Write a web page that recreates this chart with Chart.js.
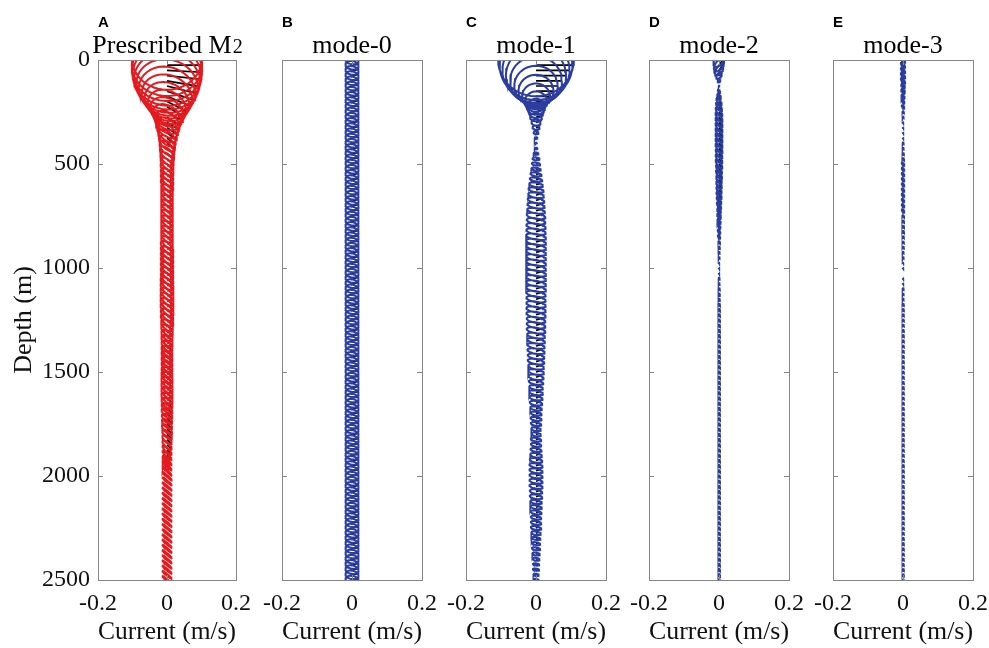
<!DOCTYPE html>
<html>
<head>
<meta charset="utf-8">
<title>M2 tidal current ellipses by vertical mode</title>
<script src="https://cdn.jsdelivr.net/npm/chart.js@4.4.1/dist/chart.umd.min.js"></script>
<style>
  body { margin: 0; background: #fff; }
  #wrap { position: relative; width: 989px; height: 648px; overflow: hidden; background: #fff; }
  #wrap canvas { position: absolute; top: 0; }
</style>
</head>
<body>
<div id="wrap">
  <canvas id="panelA" width="260" height="648" style="left:0px"></canvas>
  <canvas id="panelB" width="200" height="648" style="left:252px"></canvas>
  <canvas id="panelC" width="200" height="648" style="left:436px"></canvas>
  <canvas id="panelD" width="200" height="648" style="left:619px"></canvas>
  <canvas id="panelE" width="200" height="648" style="left:803px"></canvas>
</div>
<script>
// depth of each ellipse centre (m)
const depths = [
  0, 25, 50, 75, 100, 125, 150, 175, 200, 225,
  250, 275, 300, 325, 350, 375, 400, 425, 450, 475,
  500, 525, 550, 575, 600, 625, 650, 675, 700, 725,
  750, 775, 800, 825, 850, 875, 900, 925, 950, 975,
  1000, 1025, 1050, 1075, 1100, 1125, 1150, 1175, 1200, 1225,
  1250, 1275, 1300, 1325, 1350, 1375, 1400, 1425, 1450, 1475,
  1500, 1525, 1550, 1575, 1600, 1625, 1650, 1675, 1700, 1725,
  1750, 1775, 1800, 1825, 1850, 1875, 1900, 1925, 1950, 1975,
  2000, 2025, 2050, 2075, 2100, 2125, 2150, 2175, 2200, 2225,
  2250, 2275, 2300, 2325, 2350, 2375, 2400, 2425, 2450, 2475,
  2500
];

const xTicks = [-0.2, 0, 0.2];
const yTicks = [0, 500, 1000, 1500, 2000, 2500];

// ellipse parameters: semi-major / semi-minor axis (mm/s), inclination and phase (deg)

// A: prescribed M2 current
const majorA = [
  100, 102, 102, 100, 96, 90, 83, 75, 67, 59,
  52, 46, 41, 37, 34, 31, 29, 27, 26, 25,
  24, 24, 23, 23, 23, 22, 22, 22, 22, 22,
  22, 22, 22, 22, 22, 22, 23, 23, 23, 23,
  23, 23, 23, 24, 24, 24, 24, 24, 24, 23,
  23, 22, 22, 21, 21, 20, 20, 20, 20, 20,
  20, 21, 21, 21, 21, 21, 20, 20, 20, 19,
  19, 19, 19, 18, 18, 18, 18, 18, 18, 18,
  18, 17, 17, 17, 17, 17, 17, 17, 17, 17,
  17, 17, 17, 17, 17, 17, 17, 17, 17, 17,
  17
];
const minorA = [
  85, 88, 88, 86, 82, 76, 69, 61, 53, 45,
  38, 32, 27, 23, 20, 17, 15, 14, 13, 12,
  11, 11, 11, 11, 11, 11, 11, 11, 11, 11,
  11, 11, 11, 11, 11, 11, 11, 11, 11, 11,
  11, 11, 11, 11, 11, 11, 11, 11, 11, 11,
  11, 11, 10, 10, 10, 10, 10, 10, 10, 10,
  10, 10, 10, 10, 10, 10, 10, 9, 9, 9,
  8, 8, 7, 7, 6, 5, 4, 3, 3, 2,
  2, 2, 2, 2, 2, 2, 2, 2, 2, 2,
  2, 2, 2, 2, 2, 2, 2, 2, 2, 2,
  2
];
const incA = [
  0, 0, -3, -6, -10, -14, -18, -22, -26, -30,
  -33, -36, -38, -40, -42, -43, -44, -45, -45, -45,
  -45, -45, -45, -45, -45, -45, -45, -45, -45, -45,
  -45, -45, -45, -45, -45, -45, -45, -45, -45, -45,
  -45, -45, -45, -45, -45, -45, -45, -45, -45, -45,
  -45, -45, -45, -45, -45, -45, -45, -45, -45, -45,
  -45, -45, -45, -45, -45, -45, -45, -45, -45, -45,
  -45, -45, -45, -45, -45, -45, -45, -45, -45, -45,
  -42, -40, -40, -40, -40, -40, -40, -40, -40, -40,
  -40, -40, -40, -40, -40, -40, -40, -40, -40, -40,
  -40
];
const phaseA = [
  0, 0, 0, 0, 0, 0, 0, 0, 0, 0,
  5, 5, 10, 10, 10, 10, 10, 10, 10, 10,
  10, 10, 10, 10, 10, 10, 10, 10, 10, 10,
  10, 10, 10, 10, 10, 10, 10, 10, 10, 10,
  10, 10, 10, 10, 10, 10, 10, 10, 10, 10,
  10, 10, 10, 10, 10, 10, 10, 10, 10, 10,
  10, 10, 10, 10, 10, 10, 10, 10, 10, 10,
  10, 10, 10, 10, 10, 10, 10, 10, 10, 10,
  10, 10, 10, 10, 10, 10, 10, 10, 10, 10,
  10, 10, 10, 10, 10, 10, 10, 10, 10, 10,
  10
];

// B: mode-0 (barotropic)
const majorB = [
  19, 19, 19, 19, 19, 19, 19, 19, 19, 19,
  19, 19, 19, 19, 19, 19, 19, 19, 19, 19,
  19, 19, 19, 19, 19, 19, 19, 19, 19, 19,
  19, 19, 19, 19, 19, 19, 19, 19, 19, 19,
  19, 19, 19, 19, 19, 19, 19, 19, 19, 19,
  19, 19, 19, 19, 19, 19, 19, 19, 19, 19,
  19, 19, 19, 19, 19, 19, 19, 19, 19, 19,
  19, 19, 19, 19, 19, 19, 19, 19, 19, 19,
  19, 19, 19, 19, 19, 19, 19, 19, 19, 19,
  19, 19, 19, 19, 19, 19, 19, 19, 19, 19,
  19
];
const minorB = [
  12, 12, 12, 12, 12, 12, 12, 12, 12, 12,
  12, 12, 12, 12, 12, 12, 12, 12, 12, 12,
  12, 12, 12, 12, 12, 12, 12, 12, 12, 12,
  12, 12, 12, 12, 12, 12, 12, 12, 12, 12,
  12, 12, 12, 12, 12, 12, 12, 12, 12, 12,
  12, 12, 12, 12, 12, 12, 12, 12, 12, 12,
  12, 12, 12, 12, 12, 12, 12, 12, 12, 12,
  12, 12, 12, 12, 12, 12, 12, 12, 12, 12,
  12, 12, 12, 12, 12, 12, 12, 12, 12, 12,
  12, 12, 12, 12, 12, 12, 12, 12, 12, 12,
  12
];
const incB = [
  -12, -12, -12, -12, -12, -12, -12, -12, -12, -12,
  -12, -12, -12, -12, -12, -12, -12, -12, -12, -12,
  -12, -12, -12, -12, -12, -12, -12, -12, -12, -12,
  -12, -12, -12, -12, -12, -12, -12, -12, -12, -12,
  -12, -12, -12, -12, -12, -12, -12, -12, -12, -12,
  -12, -12, -12, -12, -12, -12, -12, -12, -12, -12,
  -12, -12, -12, -12, -12, -12, -12, -12, -12, -12,
  -12, -12, -12, -12, -12, -12, -12, -12, -12, -12,
  -12, -12, -12, -12, -12, -12, -12, -12, -12, -12,
  -12, -12, -12, -12, -12, -12, -12, -12, -12, -12,
  -12
];
const phaseB = [
  30, 30, 30, 30, 30, 30, 30, 30, 30, 30,
  30, 30, 30, 30, 30, 30, 30, 30, 30, 30,
  30, 30, 30, 30, 30, 30, 30, 30, 30, 30,
  30, 30, 30, 30, 30, 30, 30, 30, 30, 30,
  30, 30, 30, 30, 30, 30, 30, 30, 30, 30,
  30, 30, 30, 30, 30, 30, 30, 30, 30, 30,
  30, 30, 30, 30, 30, 30, 30, 30, 30, 30,
  30, 30, 30, 30, 30, 30, 30, 30, 30, 30,
  30, 30, 30, 30, 30, 30, 30, 30, 30, 30,
  30, 30, 30, 30, 30, 30, 30, 30, 30, 30,
  30
];

// C: mode-1
const majorC = [
  108, 104, 96, 86, 74, 62, 50, 40, 32, 26,
  21, 17, 13, 10, 7, 4, 2, 4, 7, 10,
  12, 14, 16, 18, 20, 22, 23, 24, 25, 26,
  27, 27, 28, 28, 29, 29, 29, 29, 29, 29,
  29, 29, 29, 29, 29, 28, 28, 28, 28, 28,
  27, 27, 27, 26, 26, 25, 25, 24, 24, 23,
  23, 22, 21, 20, 20, 19, 18, 17, 16, 16,
  15, 14, 14, 15, 15, 16, 17, 18, 19, 19,
  19, 19, 19, 18, 18, 17, 17, 16, 15, 15,
  15, 14, 13, 12, 12, 11, 10, 9, 9, 8,
  8
];
const minorC = [
  104, 100, 92, 82, 70, 58, 47, 37, 29, 23,
  17, 12, 9, 6, 4, 2, 1, 2, 3, 4,
  4, 4, 5, 5, 6, 6, 7, 7, 7, 7,
  8, 8, 8, 8, 8, 8, 8, 8, 8, 8,
  8, 8, 8, 8, 8, 8, 8, 8, 8, 8,
  8, 8, 8, 7, 7, 7, 7, 7, 7, 7,
  7, 7, 6, 6, 6, 6, 6, 5, 5, 5,
  5, 5, 5, 5, 5, 5, 6, 6, 6, 6,
  6, 6, 6, 6, 6, 5, 5, 5, 5, 5,
  5, 5, 4, 4, 4, 4, 4, 3, 3, 3,
  3
];
const incC = [
  0, 0, 0, 0, 0, 0, 0, 0, 0, 0,
  -5, -5, -5, -5, -5, -5, -5, -5, -5, -5,
  -10, -10, -10, -10, -10, -10, -10, -10, -10, -10,
  -10, -10, -10, -10, -10, -10, -10, -10, -10, -10,
  -10, -10, -10, -10, -10, -10, -10, -10, -10, -10,
  -10, -10, -10, -10, -10, -10, -10, -10, -10, -10,
  -10, -10, -10, -10, -10, -10, -10, -10, -10, -10,
  -10, -10, -10, -10, -10, -10, -10, -10, -10, -10,
  -10, -10, -10, -10, -10, -10, -10, -10, -10, -10,
  -10, -10, -10, -10, -10, -10, -10, -10, -10, -10,
  -10
];
const phaseC = [
  0, 0, 0, 0, 0, 0, 0, 0, 0, 0,
  30, 30, 30, 30, 30, 30, 30, 30, 30, 30,
  60, 60, 60, 60, 60, 60, 60, 60, 60, 60,
  60, 60, 60, 60, 60, 60, 60, 60, 60, 60,
  60, 60, 60, 60, 60, 60, 60, 60, 60, 60,
  60, 60, 60, 60, 60, 60, 60, 60, 60, 60,
  60, 60, 60, 60, 60, 60, 60, 60, 60, 60,
  60, 60, 60, 60, 60, 60, 60, 60, 60, 60,
  60, 60, 60, 60, 60, 60, 60, 60, 60, 60,
  60, 60, 60, 60, 60, 60, 60, 60, 60, 60,
  60
];

// D: mode-2
const majorD = [
  22, 20, 16, 11, 5, 1, 5, 9, 12, 14,
  15, 16, 16, 16, 16, 16, 16, 16, 15, 15,
  15, 14, 14, 13, 13, 12, 12, 11, 10, 9,
  9, 8, 7, 6, 5, 4, 3, 2, 2, 1,
  1, 1, 2, 2, 3, 3, 3, 4, 4, 4,
  4, 4, 4, 4, 4, 4, 4, 4, 4, 4,
  4, 4, 4, 4, 4, 4, 4, 4, 4, 4,
  4, 4, 4, 4, 4, 4, 4, 4, 4, 4,
  4, 4, 4, 4, 4, 4, 4, 4, 4, 4,
  4, 4, 4, 4, 4, 4, 4, 4, 4, 4,
  4
];
const minorD = [
  12, 11, 9, 6, 3, 1, 2, 3, 4, 4,
  5, 5, 5, 5, 5, 5, 5, 5, 5, 5,
  5, 4, 4, 4, 4, 4, 4, 3, 3, 3,
  3, 2, 2, 2, 2, 1, 1, 1, 1, 0,
  0, 0, 1, 1, 1, 1, 1, 1, 1, 1,
  1, 1, 1, 1, 1, 1, 1, 1, 1, 1,
  1, 1, 1, 1, 1, 1, 1, 1, 1, 1,
  1, 1, 1, 1, 1, 1, 1, 1, 1, 1,
  1, 1, 1, 1, 1, 1, 1, 1, 1, 1,
  1, 1, 1, 1, 1, 1, 1, 1, 1, 1,
  1
];
const incD = [
  55, 55, 55, 55, 55, 0, -55, -55, -55, -55,
  -55, -55, -55, -55, -55, -55, -55, -55, -55, -55,
  -55, -55, -55, -55, -55, -55, -55, -55, -55, -55,
  -55, -55, -55, -55, -55, -55, -55, -55, -55, -55,
  -55, -55, -55, -55, -55, -55, -55, -55, -55, -55,
  -55, -55, -55, -55, -55, -55, -55, -55, -55, -55,
  -55, -55, -55, -55, -55, -55, -55, -55, -55, -55,
  -55, -55, -55, -55, -55, -55, -55, -55, -55, -55,
  -55, -55, -55, -55, -55, -55, -55, -55, -55, -55,
  -55, -55, -55, -55, -55, -55, -55, -55, -55, -55,
  -55
];
const phaseD = [
  0, 0, 0, 0, 0, 0, 10, 10, 10, 10,
  10, 10, 10, 10, 10, 10, 10, 10, 10, 10,
  10, 10, 10, 10, 10, 10, 10, 10, 10, 10,
  10, 10, 10, 10, 10, 10, 10, 10, 10, 10,
  10, 10, 10, 10, 10, 10, 10, 10, 10, 10,
  10, 10, 10, 10, 10, 10, 10, 10, 10, 10,
  10, 10, 10, 10, 10, 10, 10, 10, 10, 10,
  10, 10, 10, 10, 10, 10, 10, 10, 10, 10,
  10, 10, 10, 10, 10, 10, 10, 10, 10, 10,
  10, 10, 10, 10, 10, 10, 10, 10, 10, 10,
  10
];

// E: mode-3
const majorE = [
  9, 9, 9, 9, 9, 8, 8, 7, 6, 5,
  3, 2, 1, 1, 1, 1, 2, 2, 3, 4,
  5, 5, 5, 5, 5, 5, 5, 5, 5, 5,
  4, 4, 4, 4, 3, 3, 3, 2, 2, 1,
  1, 0, 1, 1, 2, 2, 2, 3, 3, 3,
  3, 3, 3, 3, 3, 3, 3, 3, 3, 3,
  3, 3, 3, 3, 3, 3, 3, 3, 3, 3,
  3, 3, 3, 3, 3, 3, 3, 3, 3, 3,
  3, 3, 3, 3, 3, 3, 3, 3, 3, 3,
  3, 3, 3, 3, 3, 3, 3, 3, 3, 3,
  3
];
const minorE = [
  3, 3, 3, 3, 3, 3, 3, 2, 2, 2,
  1, 1, 0, 0, 0, 0, 1, 1, 1, 1,
  2, 2, 2, 2, 2, 2, 2, 2, 2, 2,
  1, 1, 1, 1, 1, 1, 1, 1, 1, 0,
  0, 0, 0, 0, 1, 1, 1, 1, 1, 1,
  1, 1, 1, 1, 1, 1, 1, 1, 1, 1,
  1, 1, 1, 1, 1, 1, 1, 1, 1, 1,
  1, 1, 1, 1, 1, 1, 1, 1, 1, 1,
  1, 1, 1, 1, 1, 1, 1, 1, 1, 1,
  1, 1, 1, 1, 1, 1, 1, 1, 1, 1,
  1
];
const incE = [
  -50, -50, -50, -50, -50, -50, -50, -50, -50, -50,
  -50, -50, -50, -50, -50, -50, -50, -50, -50, -50,
  -50, -50, -50, -50, -50, -50, -50, -50, -50, -50,
  -50, -50, -50, -50, -50, -50, -50, -50, -50, -50,
  -50, -50, -50, -50, -50, -50, -50, -50, -50, -50,
  -50, -50, -50, -50, -50, -50, -50, -50, -50, -50,
  -50, -50, -50, -50, -50, -50, -50, -50, -50, -50,
  -50, -50, -50, -50, -50, -50, -50, -50, -50, -50,
  -50, -50, -50, -50, -50, -50, -50, -50, -50, -50,
  -50, -50, -50, -50, -50, -50, -50, -50, -50, -50,
  -50
];
const phaseE = [
  0, 0, 0, 0, 0, 0, 0, 0, 0, 0,
  0, 0, 0, 0, 0, 0, 0, 0, 0, 0,
  0, 0, 0, 0, 0, 0, 0, 0, 0, 0,
  0, 0, 0, 0, 0, 0, 0, 0, 0, 0,
  0, 0, 0, 0, 0, 0, 0, 0, 0, 0,
  0, 0, 0, 0, 0, 0, 0, 0, 0, 0,
  0, 0, 0, 0, 0, 0, 0, 0, 0, 0,
  0, 0, 0, 0, 0, 0, 0, 0, 0, 0,
  0, 0, 0, 0, 0, 0, 0, 0, 0, 0,
  0, 0, 0, 0, 0, 0, 0, 0, 0, 0,
  0
];

const RED = '#e41a1f';
const BLUE = '#2b3d9e';
const VSCALE = 1680;   // metres of depth drawn per m/s of northward velocity
const NSEG = 48;       // outline points per ellipse

Chart.defaults.font.family = '"Liberation Serif", "Times New Roman", serif';
Chart.defaults.color = '#111';

// turn ellipse parameters into outline points and the centre-to-phase arm
function ellipsePoints(major, minor, inc, phase) {
  const rings = [], arms = [];
  depths.forEach((d, i) => {
    const a = major[i] / 1000, b = minor[i] / 1000;
    const th = inc[i] * Math.PI / 180;
    const at = t => {
      const u = a * Math.cos(t) * Math.cos(th) - b * Math.sin(t) * Math.sin(th);
      const v = a * Math.cos(t) * Math.sin(th) + b * Math.sin(t) * Math.cos(th);
      return { x: u, y: d - v * VSCALE };
    };
    for (let k = 0; k <= NSEG; k++) rings.push(at(2 * Math.PI * k / NSEG));
    rings.push({ x: null, y: null });
    arms.push({ x: 0, y: d }, at(phase[i] * Math.PI / 180), { x: null, y: null });
  });
  return { rings, arms };
}

// box, inward ticks, panel letter and title
const framePlugin = {
  id: 'frame',
  afterDatasetsDraw(chart, args, opts) {
    const { ctx, chartArea: ca, scales } = chart;
    ctx.save();
    ctx.strokeStyle = '#858585';
    ctx.lineWidth = 1;
    ctx.strokeRect(Math.round(ca.left) + 0.5, Math.round(ca.top) + 0.5,
                   Math.round(ca.width), Math.round(ca.height));
    ctx.beginPath();
    yTicks.forEach(v => {
      const y = Math.round(scales.y.getPixelForValue(v)) + 0.5;
      ctx.moveTo(ca.left, y); ctx.lineTo(ca.left + 5, y);
      ctx.moveTo(ca.right, y); ctx.lineTo(ca.right - 5, y);
    });
    xTicks.forEach(v => {
      const x = Math.round(scales.x.getPixelForValue(v)) + 0.5;
      ctx.moveTo(x, ca.top); ctx.lineTo(x, ca.top + 5);
      ctx.moveTo(x, ca.bottom); ctx.lineTo(x, ca.bottom - 5);
    });
    ctx.stroke();
    ctx.restore();
  },
  afterDraw(chart, args, opts) {
    const { ctx, chartArea: ca } = chart;
    const cx = (ca.left + ca.right) / 2;
    ctx.save();
    ctx.fillStyle = '#000';
    ctx.textBaseline = 'alphabetic';
    ctx.textAlign = 'left';
    ctx.font = 'bold 15px "Liberation Sans", Arial, sans-serif';
    ctx.fillText(opts.letter, ca.left, 27);
    ctx.font = '26px "Liberation Serif", "Times New Roman", serif';
    const w1 = ctx.measureText(opts.title).width;
    let w2 = 0;
    if (opts.sub) {
      ctx.font = '20px "Liberation Serif", "Times New Roman", serif';
      w2 = ctx.measureText(opts.sub).width;
    }
    const x0 = cx - (w1 + w2) / 2;
    ctx.font = '26px "Liberation Serif", "Times New Roman", serif';
    ctx.fillText(opts.title, x0, 53);
    if (opts.sub) {
      ctx.font = '20px "Liberation Serif", "Times New Roman", serif';
      ctx.fillText(opts.sub, x0 + w1 + 1, 53);
    }
    ctx.restore();
  }
};

function makePanel(id, letter, title, sub, color, major, minor, inc, phase, withYAxis) {
  const { rings, arms } = ellipsePoints(major, minor, inc, phase);
  return new Chart(document.getElementById(id), {
    type: 'line',
    data: {
      datasets: [
        { data: rings, borderColor: color, borderWidth: 2, order: 0 },
        { data: arms, borderColor: '#000', borderWidth: 1.7, order: 1 }
      ]
    },
    options: {
      responsive: false,
      animation: false,
      parsing: { xAxisKey: 'x', yAxisKey: 'y' },
      elements: { point: { radius: 0, hoverRadius: 0 }, line: { tension: 0 } },
      spanGaps: false,
      events: [],
      layout: { padding: withYAxis ? { top: 60, right: 22, left: 0, bottom: 0 }
                                   : { top: 60, right: 30, left: 30, bottom: 0 } },
      plugins: {
        legend: { display: false },
        tooltip: { enabled: false },
        frame: { letter, title, sub }
      },
      scales: {
        x: {
          type: 'linear',
          min: xTicks[0], max: xTicks[xTicks.length - 1],
          afterBuildTicks: s => { s.ticks = xTicks.map(v => ({ value: v })); },
          ticks: {
            font: { size: 24 }, color: '#111', padding: 9, maxRotation: 0,
            callback: v => (Math.abs(v) < 1e-9 ? '0' : v.toFixed(1))
          },
          grid: { display: false, drawTicks: false },
          border: { display: false },
          title: { display: true, text: 'Current (m/s)', font: { size: 26 }, color: '#111', padding: 0 },
          afterFit: s => { s.height = 68; }
        },
        y: {
          type: 'linear',
          reverse: true,
          min: 0, max: 2500,
          display: withYAxis,
          afterBuildTicks: s => { s.ticks = yTicks.map(v => ({ value: v })); },
          ticks: { font: { size: 24 }, color: '#111', padding: 8, callback: v => String(v) },
          grid: { display: false, drawTicks: false },
          border: { display: false },
          title: { display: true, text: 'Depth (m)', font: { size: 26 }, color: '#111',
                   padding: { top: 9, bottom: 0 } },
          afterFit: s => { s.width = withYAxis ? 98 : 0; }
        }
      }
    },
    plugins: [framePlugin]
  });
}

makePanel('panelA', 'A', 'Prescribed M', '2', RED, majorA, minorA, incA, phaseA, true);
makePanel('panelB', 'B', 'mode-0', '', BLUE, majorB, minorB, incB, phaseB, false);
makePanel('panelC', 'C', 'mode-1', '', BLUE, majorC, minorC, incC, phaseC, false);
makePanel('panelD', 'D', 'mode-2', '', BLUE, majorD, minorD, incD, phaseD, false);
makePanel('panelE', 'E', 'mode-3', '', BLUE, majorE, minorE, incE, phaseE, false);
</script>
</body>
</html>
